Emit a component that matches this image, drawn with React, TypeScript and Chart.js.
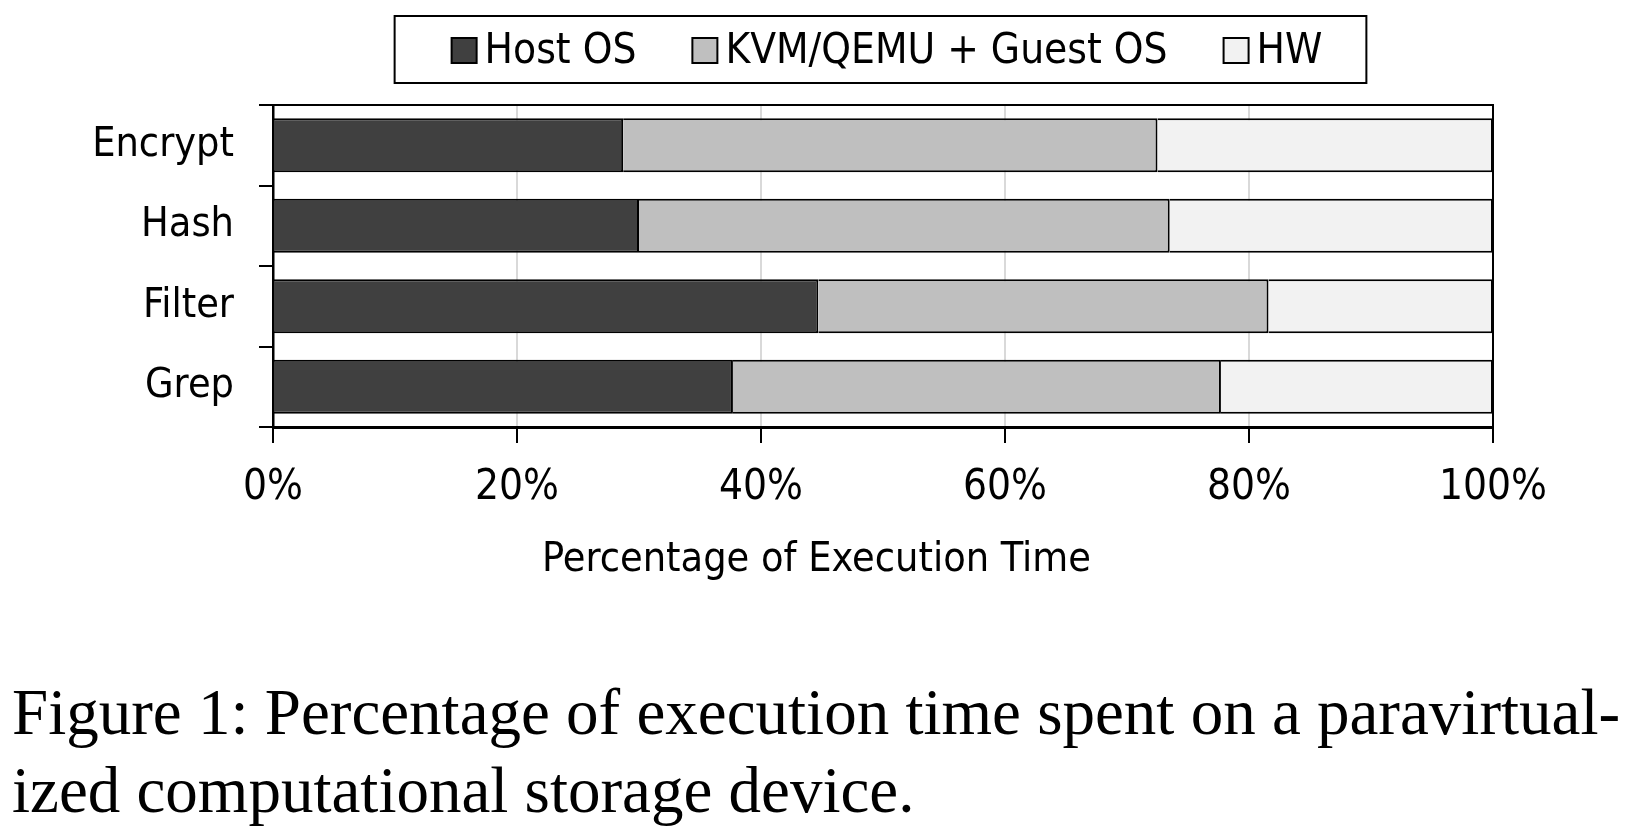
import React, { useEffect, useRef } from "react";
import { Chart, registerables } from "chart.js";

Chart.register(...registerables);

const categories = ["Encrypt", "Hash", "Filter", "Grep"];
const seriesNames = ["Host OS", "KVM/QEMU + Guest OS", "HW"];
const hostOS = [28.7, 30.0, 44.7, 37.7];
const kvmGuest = [43.8, 43.5, 36.9, 40.0];
const hw = [27.5, 26.5, 18.4, 22.3];
const xTickStep = 20;
const xMin = 0;
const xMax = 100;
const axisTitle = "Percentage of Execution Time";
const captionLine1 = "Figure 1: Percentage of execution time spent on a paravirtual-";
const captionLine2 = "ized computational storage device.";
const seriesColors = ["#404040", "#bfbfbf", "#f2f2f2"];

const FONT = '"DejaVu Sans Condensed", "DejaVu Sans", sans-serif';

const boxLegendPlugin = {
  id: "boxLegend",
  afterDraw(chart: any) {
    const ctx = chart.ctx;
    ctx.save();
    ctx.font = `42px ${FONT}`;
    const sw = 25;
    const gapText = 8;
    const gapItem = 56;
    const padL = 57;
    const padR = 44;
    const items = chart.data.datasets.map((ds: any) => ({
      label: ds.label,
      color: ds.backgroundColor,
      w: ctx.measureText(ds.label).width,
    }));
    const total = items.reduce(
      (s: number, it: any, i: number) => s + sw + gapText + it.w + (i ? gapItem : 0),
      0
    );
    const cx = (chart.chartArea.left + chart.chartArea.right) / 2 + 4;
    let x = cx - total / 2;
    const top = 16;
    const bottom = 83;
    ctx.lineWidth = 2;
    ctx.strokeStyle = "#000";
    ctx.strokeRect(x - padL, top, total + padL + padR, bottom - top);
    ctx.textBaseline = "alphabetic";
    ctx.textAlign = "left";
    items.forEach((it: any, i: number) => {
      if (i) x += gapItem;
      ctx.fillStyle = it.color;
      ctx.fillRect(x, 38, sw, sw);
      ctx.lineWidth = 2;
      ctx.strokeStyle = "#000";
      ctx.strokeRect(x, 38, sw, sw);
      x += sw + gapText;
      ctx.fillStyle = "#000";
      ctx.fillText(it.label, x, 63);
      x += it.w;
    });
    ctx.restore();
  },
};

const frameAndTitlePlugin = {
  id: "frameAndTitle",
  afterDraw(chart: any) {
    const ctx = chart.ctx;
    const { left, right, top, bottom } = chart.chartArea;
    ctx.save();
    ctx.strokeStyle = "#000";
    ctx.lineWidth = 2;
    ctx.beginPath();
    ctx.moveTo(left, top);
    ctx.lineTo(right, top);
    ctx.lineTo(right, bottom);
    ctx.stroke();
    ctx.font = `41px ${FONT}`;
    ctx.fillStyle = "#000";
    ctx.textAlign = "center";
    ctx.textBaseline = "alphabetic";
    ctx.fillText(axisTitle, chart.width / 2, 571);
    ctx.restore();
  },
};

export default function App() {
  const canvasRef = useRef<HTMLCanvasElement | null>(null);

  useEffect(() => {
    const canvas = canvasRef.current;
    if (!canvas) return;
    const seriesData = [hostOS, kvmGuest, hw];
    const chart = new Chart(canvas, {
      type: "bar",
      data: {
        labels: categories,
        datasets: seriesNames.map((name, i) => ({
          label: name,
          data: seriesData[i],
          backgroundColor: seriesColors[i],
          borderColor: "#000",
          borderWidth: 2,
          categoryPercentage: 1,
          barPercentage: 0.67,
        })),
      },
      options: {
        indexAxis: "y",
        responsive: false,
        maintainAspectRatio: false,
        animation: false,
        layout: { padding: { top: 105, left: 0, right: 140, bottom: 73 } },
        plugins: {
          legend: { display: false },
          tooltip: { enabled: false },
          title: { display: false },
        },
        scales: {
          x: {
            stacked: true,
            min: xMin,
            max: xMax,
            ticks: {
              stepSize: xTickStep,
              callback: (v: any) => `${v}%`,
              color: "#000",
              font: { family: FONT, size: 42 },
              padding: 20,
              maxRotation: 0,
            },
            grid: {
              color: "#d9d9d9",
              lineWidth: 2,
              tickColor: "#000",
              tickLength: 16,
              tickWidth: 2,
            },
            border: { color: "#000", width: 3 },
            afterFit: (scale: any) => {
              scale.height = 100;
            },
          },
          y: {
            stacked: true,
            ticks: {
              color: "#000",
              font: { family: FONT, size: 41 },
              padding: 25,
            },
            grid: {
              drawOnChartArea: false,
              color: "#000",
              tickColor: "#000",
              tickLength: 14,
              lineWidth: 2,
              tickWidth: 2,
              offset: true,
            },
            border: { color: "#000", width: 2.5 },
            afterFit: (scale: any) => {
              scale.width = 273;
            },
          },
        },
      },
      plugins: [boxLegendPlugin, frameAndTitlePlugin],
    });
    return () => chart.destroy();
  }, []);

  return (
    <div style={{ position: "absolute", left: 0, top: 0, width: 1633, height: 833, background: "#fff" }}>
      <canvas
        ref={canvasRef}
        width={1633}
        height={600}
        style={{ position: "absolute", left: 0, top: 0, width: 1633, height: 600 }}
      />
      <div
        style={{
          position: "absolute",
          left: 12,
          top: 673,
          width: 1608,
          fontFamily: '"Liberation Serif", "Times New Roman", serif',
          fontSize: 65,
          lineHeight: "78px",
          color: "#000",
        }}
      >
        <div style={{ textAlign: "justify", textAlignLast: "justify", whiteSpace: "nowrap" }}>{captionLine1}</div>
        <div style={{ textAlign: "left" }}>{captionLine2}</div>
      </div>
    </div>
  );
}
